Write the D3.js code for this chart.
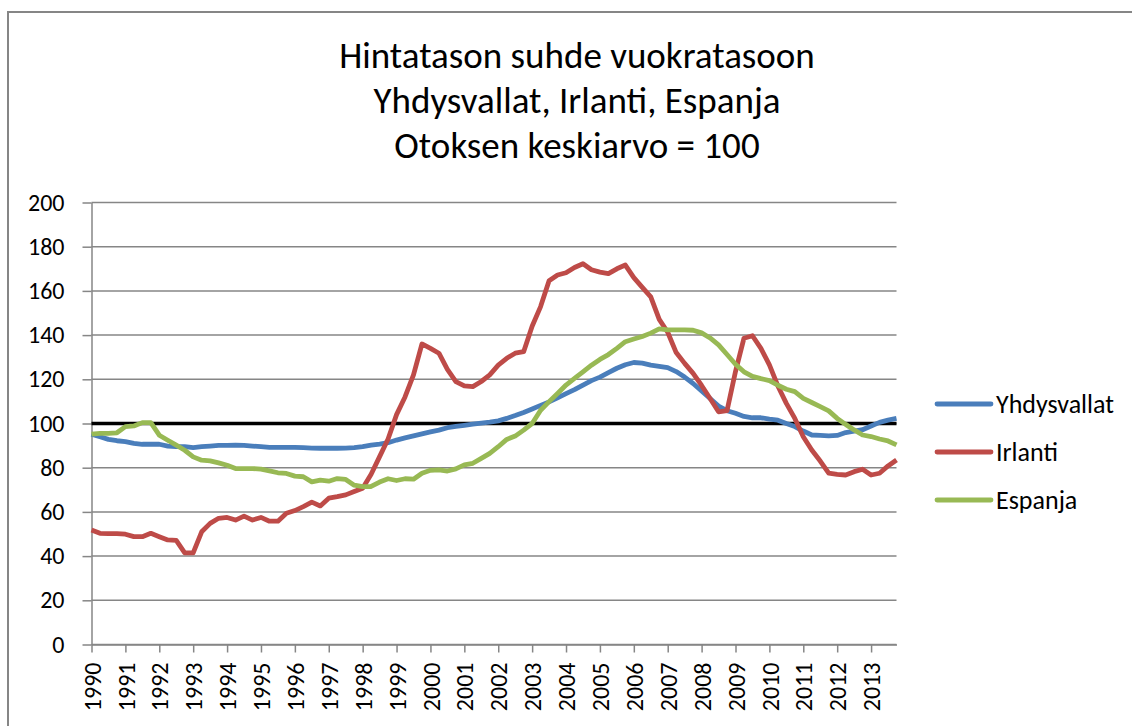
<!DOCTYPE html>
<html lang="fi">
<head>
<meta charset="UTF-8">
<title>Hintatason suhde vuokratasoon</title>
<script src="https://d3js.org/d3.v7.min.js"></script>
<style>
  body { margin: 0; background: #fff; }
  text { font-family: Carlito, Calibri, Lato, sans-serif; fill: #000; }
  .axis path, .axis line { stroke: #868686; stroke-width: 1.5; }
  .grid line { stroke: #868686; stroke-width: 1.5; }
</style>
</head>
<body>
<div id="chart"></div>
<script>
// Quarterly data 1990Q1 - 2013Q4, sample mean = 100
const years = d3.range(1990, 2014).map(String);
const seriesNames = ["Yhdysvallat", "Irlanti", "Espanja"];
const seriesColors = ["#4A7EBB", "#BE4B48", "#98B954"];

const usa = [
  95.2, 94.0, 92.8, 92.2, 91.8, 91.0, 90.6, 90.6,
  90.6, 89.8, 89.5, 89.5, 89.1, 89.5, 89.8, 90.1,
  90.1, 90.2, 90.1, 89.8, 89.5, 89.2, 89.2, 89.2,
  89.2, 89.1, 88.9, 88.8, 88.8, 88.8, 88.9, 89.1,
  89.5, 90.2, 90.7, 91.3, 92.5, 93.5, 94.4, 95.3,
  96.2, 97.0, 98.1, 98.7, 99.2, 99.7, 100.2, 100.6,
  101.2, 102.3, 103.6, 105.0, 106.6, 108.2, 109.8, 111.6,
  113.5, 115.3, 117.4, 119.4, 121.0, 123.0, 125.0, 126.6,
  127.6, 127.3, 126.4, 125.9, 125.3, 123.5, 121.0, 118.1,
  114.7, 111.3, 107.9, 105.8, 104.6, 103.2, 102.6, 102.6,
  102.0, 101.5, 100.0, 98.6, 96.6, 94.8, 94.6, 94.4,
  94.6, 95.9, 96.5, 97.2, 98.9, 100.5, 101.5, 102.3
];

const ireland = [
  51.8, 50.3, 50.2, 50.2, 49.9, 48.8, 48.8, 50.3,
  48.8, 47.3, 47.1, 41.5, 41.5, 51.0, 54.8, 57.1,
  57.5, 56.3, 58.1, 56.3, 57.5, 55.8, 55.8, 59.4,
  60.6, 62.4, 64.4, 62.7, 66.2, 66.9, 67.7, 69.2,
  70.7, 77.0, 85.0, 93.0, 104.0, 112.0, 122.0, 136.0,
  134.0, 131.8, 124.5, 119.0, 117.0, 116.7, 119.0, 122.0,
  126.4, 129.5, 131.8, 132.5, 144.0, 152.9, 164.6, 167.2,
  168.2, 170.6, 172.3, 169.6, 168.5, 167.8, 170.0, 171.7,
  166.0, 161.6, 157.3, 147.1, 141.3, 132.1, 127.2, 122.7,
  117.2, 111.3, 105.3, 105.8, 123.5, 138.6, 139.7, 134.0,
  126.5, 117.0, 109.1, 102.3, 94.0, 88.0, 83.0, 77.5,
  77.0, 76.7, 78.2, 79.3, 76.7, 77.5, 80.8, 83.5
];

const spain = [
  95.2, 95.5, 95.5, 95.8, 98.6, 98.9, 100.4, 100.4,
  94.7, 92.4, 90.2, 87.9, 84.9, 83.4, 83.1, 82.2,
  81.1, 79.6, 79.6, 79.6, 79.4, 78.6, 77.7, 77.4,
  76.2, 75.9, 73.6, 74.4, 73.9, 75.1, 74.7, 72.1,
  71.4, 71.5, 73.5, 75.0, 74.2, 75.0, 74.8, 77.5,
  78.8, 79.0, 78.5, 79.5, 81.3, 82.0, 84.2, 86.5,
  89.5, 92.8, 94.3, 97.0, 100.0, 106.0, 109.9, 113.6,
  117.4, 120.4, 123.4, 126.4, 129.0, 131.2, 134.0, 137.0,
  138.2, 139.4, 140.9, 142.8, 142.4, 142.4, 142.4, 142.2,
  141.0, 138.7, 135.6, 131.2, 126.8, 123.4, 121.3, 120.3,
  119.4, 117.3, 115.5, 114.4, 111.4, 109.5, 107.6, 105.7,
  102.3, 99.6, 97.1, 94.8, 94.1, 93.0, 92.1, 90.3
];

const series = [usa, ireland, spain];
const yTicks = d3.range(0, 201, 20);
const reference = 100;

const width = 1132, height = 726;
const plot = { left: 91.5, right: 896.5, top: 202.5, bottom: 644.5 };

const svg = d3.select("#chart").append("svg")
  .attr("width", width)
  .attr("height", height);

// chart frame
svg.append("rect")
  .attr("x", 8).attr("y", 12)
  .attr("width", 1300).attr("height", 900)
  .attr("fill", "none")
  .attr("stroke", "#868686")
  .attr("stroke-width", 2);

const x = d3.scaleLinear().domain([0, usa.length - 1]).range([plot.left, plot.right]);
const y = d3.scaleLinear().domain([0, 200]).range([plot.bottom, plot.top]);

// gridlines
svg.append("g").attr("class", "grid")
  .selectAll("line")
  .data(yTicks)
  .join("line")
  .attr("x1", plot.left).attr("x2", plot.right)
  .attr("y1", d => y(d)).attr("y2", d => y(d));

// y axis
const yAxis = svg.append("g").attr("class", "axis")
  .attr("transform", `translate(${plot.left},0)`)
  .call(d3.axisLeft(y).tickValues(yTicks).tickSize(9).tickSizeOuter(0).tickPadding(18));
yAxis.selectAll("text").style("font-size", "24px");

// x axis, one tick per year
const xAxis = svg.append("g").attr("class", "axis")
  .attr("transform", `translate(0,${plot.bottom})`)
  .call(d3.axisBottom(x)
    .tickValues(d3.range(0, usa.length, 4))
    .tickSize(8).tickSizeOuter(0)
    .tickFormat((d, i) => years[i]));
xAxis.selectAll("text")
  .style("font-size", "24px")
  .attr("text-anchor", "end")
  .attr("transform", "rotate(-90)")
  .attr("x", -18)
  .attr("y", 0)
  .attr("dy", "0.36em");

// reference line at 100
svg.append("line")
  .attr("x1", plot.left).attr("x2", plot.right)
  .attr("y1", y(reference)).attr("y2", y(reference))
  .attr("stroke", "#000")
  .attr("stroke-width", 3.5);

// series
const line = d3.line()
  .x((d, i) => x(i))
  .y(d => y(d));

svg.append("g")
  .selectAll("path")
  .data(series)
  .join("path")
  .attr("d", line)
  .attr("fill", "none")
  .attr("stroke", (d, i) => seriesColors[i])
  .attr("stroke-width", 4.8)
  .attr("stroke-linejoin", "round");

// title
const titleLines = ["Hintatason suhde vuokratasoon", "Yhdysvallat, Irlanti, Espanja", "Otoksen keskiarvo = 100"];
svg.append("g")
  .selectAll("text")
  .data(titleLines)
  .join("text")
  .attr("x", 577)
  .attr("y", (d, i) => 68 + i * 45)
  .attr("text-anchor", "middle")
  .style("font-size", "37px")
  .text(d => d);

// legend
const legend = svg.append("g")
  .selectAll("g")
  .data(seriesNames)
  .join("g")
  .attr("transform", (d, i) => `translate(937,${404 + i * 48})`);

legend.append("line")
  .attr("x1", 0).attr("x2", 54)
  .attr("stroke", (d, i) => seriesColors[i])
  .attr("stroke-width", 4.8)
  .attr("stroke-linecap", "round");

legend.append("text")
  .attr("x", 59)
  .attr("dy", "0.36em")
  .style("font-size", "26px")
  .text(d => d);
</script>
</body>
</html>
